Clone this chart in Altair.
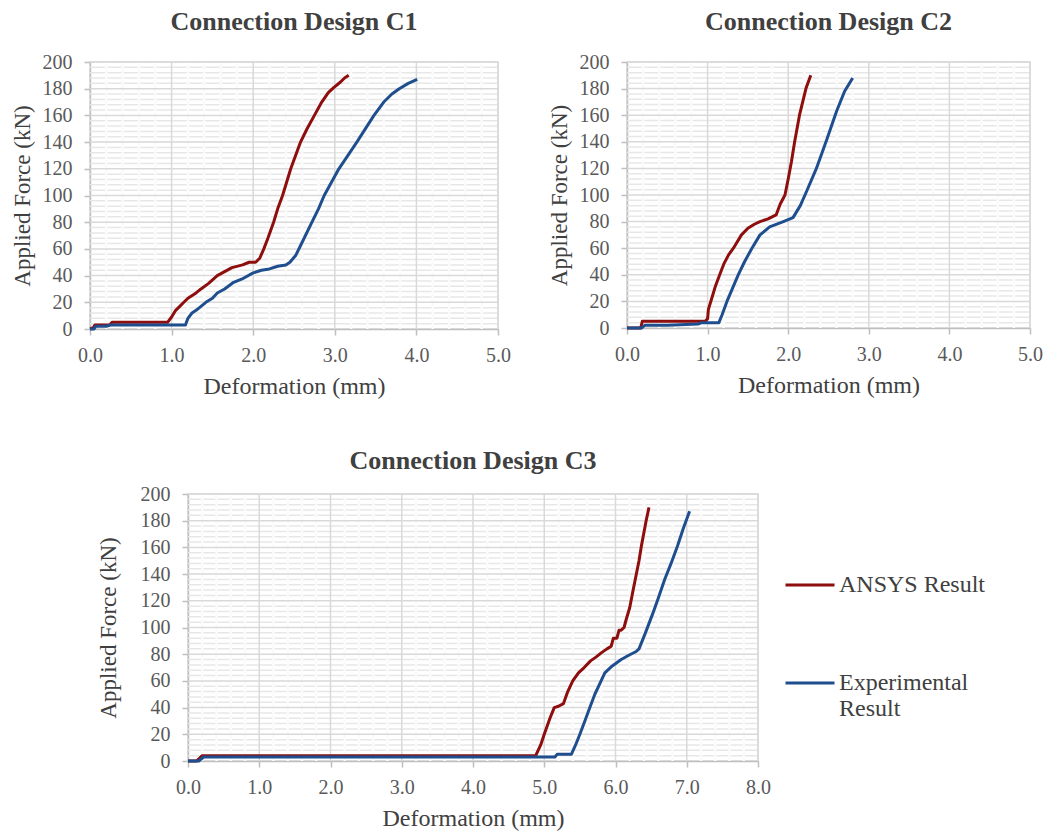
import altair as alt
import pandas as pd

FONT = "Liberation Serif"
RED = "#8E0D0D"
BLUE = "#1F4E8F"
MAJOR = "#d9d9d9"
MINOR_H = "#e7e7e7"
MINOR_V = "#fbfbfb"

SERIES = ["ANSYS Result", "Experimental Result"]

# ---- Connection Design C1 ----
c1_ansys_x = [0, 0.04, 0.06, 0.24, 0.27, 0.5, 0.95, 1.0, 1.05, 1.1, 1.15, 1.2, 1.3, 1.36,
              1.45, 1.56, 1.65, 1.74, 1.87, 1.95, 2.03, 2.08, 2.13, 2.18, 2.25, 2.3, 2.36,
              2.46, 2.58, 2.66, 2.75, 2.84, 2.92, 2.99, 3.07, 3.12, 3.17]
c1_ansys_y = [0, 1, 3, 3, 5, 5, 5, 9, 14, 17, 20, 23, 27, 30,
              34, 40, 43, 46, 48, 50, 50, 53, 60, 68, 80, 90, 100,
              120, 140, 150, 160, 170, 177, 181, 185, 188, 190]
c1_exp_x = [0, 0.05, 0.07, 0.2, 0.25, 1.0, 1.17, 1.2, 1.25, 1.3, 1.42, 1.5, 1.56, 1.65,
            1.76, 1.88, 2.0, 2.1, 2.2, 2.3, 2.4, 2.45, 2.52, 2.6, 2.72, 2.8, 2.87, 3.05,
            3.27, 3.48, 3.6, 3.7, 3.79, 3.9, 4.01]
c1_exp_y = [0, 0, 2, 2, 3, 3, 3, 8, 12, 14, 20, 23, 27, 30,
            35, 38, 42, 44, 45, 47, 48, 50, 55, 65, 80, 90, 100, 120,
            140, 160, 170, 176, 180, 184, 187]

# ---- Connection Design C2 ----
c2_ansys_x = [0, 0.17, 0.19, 0.5, 0.97, 1.0, 1.01, 1.05, 1.1, 1.15, 1.2, 1.26, 1.32, 1.42,
              1.5, 1.58, 1.65, 1.75, 1.85, 1.9, 1.96, 2.0, 2.04, 2.08, 2.14, 2.22, 2.28]
c2_ansys_y = [0, 0, 5, 5, 5, 7, 14, 22, 32, 40, 48, 55, 60, 70,
              75, 78, 80, 82, 85, 93, 100, 112, 125, 140, 160, 180, 190]
c2_exp_x = [0, 0.18, 0.22, 0.5, 0.88, 0.93, 1.0, 1.14, 1.18, 1.24, 1.31, 1.38, 1.46, 1.55,
            1.65, 1.77, 1.94, 2.06, 2.15, 2.23, 2.35, 2.48, 2.6, 2.7, 2.8]
c2_exp_y = [0, 0, 2, 2, 3, 4, 4, 4, 10, 20, 30, 40, 50, 60,
            70, 76, 80, 83, 92, 103, 120, 142, 163, 178, 188]

# ---- Connection Design C3 ----
c3_ansys_x = [0, 0.12, 0.2, 1.0, 4.88, 4.95, 5.0, 5.08, 5.14, 5.2, 5.27, 5.33, 5.4, 5.48,
              5.56, 5.65, 5.73, 5.8, 5.88, 5.94, 5.97, 6.02, 6.05, 6.08, 6.12, 6.15, 6.2,
              6.24, 6.33, 6.36, 6.43, 6.47]
c3_ansys_y = [0, 0, 4, 4, 4, 12, 20, 32, 40, 41, 43, 52, 60, 66,
              70, 75, 78, 81, 84, 86, 92, 92, 98, 98, 100, 106, 115,
              126, 150, 160, 180, 190]
c3_exp_x = [0, 0.15, 0.22, 1.0, 5.15, 5.18, 5.38, 5.44, 5.5, 5.57, 5.64, 5.71, 5.78, 5.85,
            5.95, 6.08, 6.18, 6.29, 6.33, 6.42, 6.52, 6.6, 6.69, 6.78, 6.87, 6.95, 7.04]
c3_exp_y = [0, 0, 3, 3, 3, 5, 5, 12, 20, 30, 40, 50, 58, 66,
            71, 76, 79, 82, 84, 96, 110, 122, 136, 148, 161, 174, 187]

Y_TICKS = [0, 20, 40, 60, 80, 100, 120, 140, 160, 180, 200]


def frame(ax, ay, ex, ey):
    rows = []
    for i, (x, y) in enumerate(zip(ax, ay)):
        rows.append({"series": SERIES[0], "x": x, "y": y, "i": i})
    for i, (x, y) in enumerate(zip(ex, ey)):
        rows.append({"series": SERIES[1], "x": x, "y": y, "i": i})
    return pd.DataFrame(rows)


def panel(title, ax, ay, ex, ey, xmax, width, height, ytitle_pad, title_offset, legend):
    xs = alt.Scale(domain=[0, xmax], nice=False, zero=False)
    ys = alt.Scale(domain=[0, 200], nice=False)
    x_major = list(range(0, xmax + 1))
    x_minor = [round(i * 0.2, 1) for i in range(xmax * 5 + 1) if i % 5]
    y_minor = [v for v in range(0, 201, 4) if v % 20]

    x_axis = alt.Axis(values=x_major, format=".1f", title="Deformation (mm)",
                      labelPadding=10, titlePadding=9, titleFontSize=24,
                      labelFlush=False, labelOverlap=False)
    y_axis = alt.Axis(values=Y_TICKS, title="Applied Force (kN)",
                      labelPadding=12, titlePadding=ytitle_pad,
                      labelFlush=False, labelOverlap=False)
    X = alt.X("x:Q", scale=xs, axis=x_axis)
    Y = alt.Y("y:Q", scale=ys, axis=y_axis)

    hmin = alt.Chart(pd.DataFrame({"y": y_minor})).mark_rule(
        color=MINOR_H, strokeWidth=1.5).encode(y=Y)
    vmin = alt.Chart(pd.DataFrame({"x": x_minor})).mark_rule(
        color=MINOR_V, strokeWidth=2.5).encode(x=X)
    hmaj = alt.Chart(pd.DataFrame({"y": Y_TICKS[1:]})).mark_rule(
        color=MAJOR, strokeWidth=1.5).encode(y=Y)
    vmaj = alt.Chart(pd.DataFrame({"x": x_major[1:]})).mark_rule(
        color=MAJOR, strokeWidth=1.5).encode(x=X)

    color_kwargs = dict(scale=alt.Scale(domain=SERIES, range=[RED, BLUE]))
    if legend is None:
        color = alt.Color("series:N", legend=None, **color_kwargs)
    else:
        color = alt.Color("series:N", legend=legend, **color_kwargs)

    lines = alt.Chart(frame(ax, ay, ex, ey)).mark_line(
        strokeWidth=3, strokeJoin="round").encode(
        x=X, y=Y, color=color, order="i:Q",
    )
    return alt.layer(hmin, vmin, hmaj, vmaj, lines).properties(
        width=width, height=height,
        title=alt.TitleParams(title, font=FONT, fontSize=26, fontWeight="bold",
                              color="#404040", offset=title_offset, anchor="middle"))


c1 = panel("Connection Design C1", c1_ansys_x, c1_ansys_y, c1_exp_x, c1_exp_y,
           5, 408, 267, 8, 17, None)
c2 = panel("Connection Design C2", c2_ansys_x, c2_ansys_y, c2_exp_x, c2_exp_y,
           5, 403, 266, 8, 17, None)

legend = alt.Legend(
    orient="none", legendX=596, legendY=65, title=None,
    symbolType="stroke", symbolSize=2401, symbolStrokeWidth=3,
    labelFont=FONT, labelFontSize=24, labelColor="#404040", labelLimit=400,
    labelOffset=3, rowPadding=60,
    labelExpr="datum.label == 'Experimental Result' ? ['Experimental', 'Result'] : datum.label",
)
c3 = panel("Connection Design C3", c3_ansys_x, c3_ansys_y, c3_exp_x, c3_exp_y,
           8, 570, 267, 20, 10, legend)

spacer = alt.Chart(pd.DataFrame({"a": [0]})).mark_point(opacity=0).encode(
    x=alt.X("a:Q", axis=None), y=alt.Y("a:Q", axis=None)
).properties(width=5, height=5, view=alt.ViewBackground(stroke="transparent"))

top = alt.hconcat(c1, c2, spacing=35).resolve_scale(color="independent")
bottom = alt.hconcat(spacer, c3, spacing=0).resolve_scale(color="independent")

chart = alt.vconcat(top, bottom, spacing=48).resolve_scale(color="independent").properties(
    padding={"left": 10, "top": 8, "right": 0, "bottom": 0}
).configure(background="white").configure_axis(
    labelFont=FONT, labelFontSize=20, labelColor="#595959",
    titleFont=FONT, titleFontSize=23, titleFontWeight="normal", titleColor="#404040",
    tickColor="#bfbfbf", domainColor="#bfbfbf", tickSize=6, tickWidth=1.5,
    domainWidth=1.5, grid=False,
).configure_view(stroke=MAJOR, strokeWidth=1.5)

chart.save("out.html", embed_options={"renderer": "svg", "actions": False})
